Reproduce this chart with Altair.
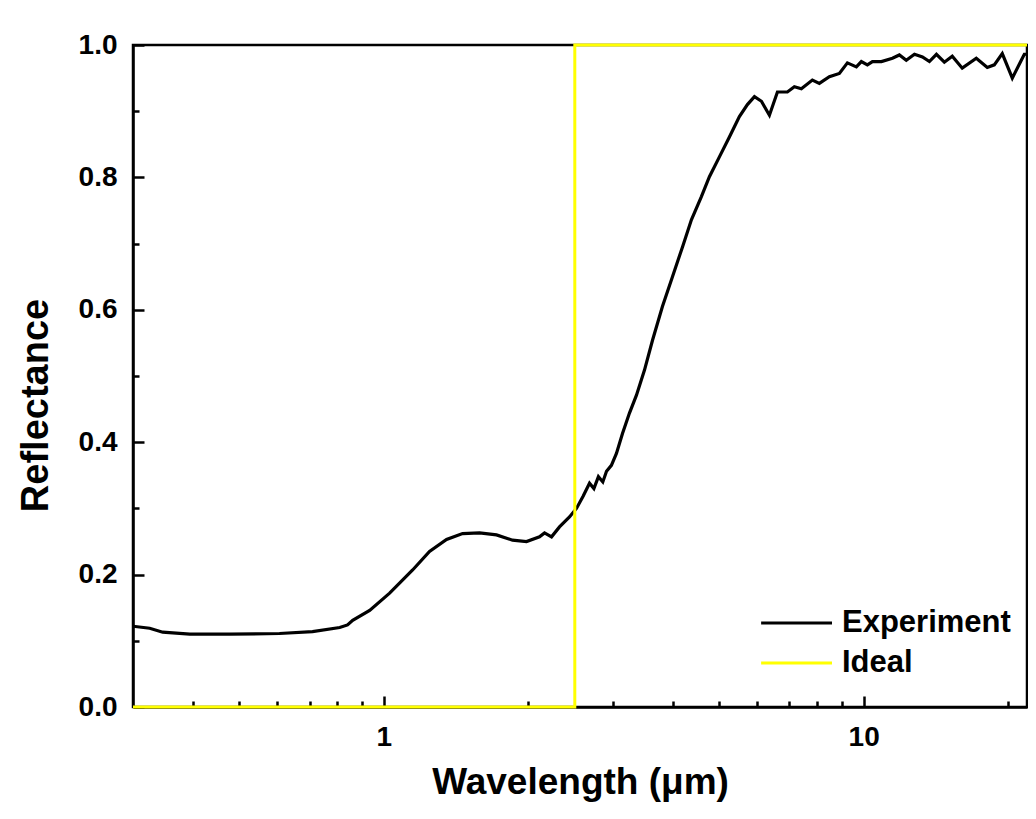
import altair as alt
import pandas as pd

# ---- data ----
exp_wavelength = [0.300, 0.325, 0.346, 0.394, 0.477, 0.606, 0.710, 0.809, 0.840, 0.861,
                  0.934, 1.028, 1.148, 1.245, 1.351, 1.459, 1.583, 1.717, 1.854, 1.983,
                  2.111, 2.162, 2.236, 2.323, 2.437, 2.520, 2.60, 2.683, 2.74, 2.80,
                  2.86, 2.911, 2.98, 3.053, 3.143, 3.250, 3.361, 3.493, 3.630, 3.807,
                  3.995, 4.192, 4.375, 4.590, 4.770, 5.004, 5.250, 5.508, 5.724, 5.921,
                  6.123, 6.362, 6.611, 6.934, 7.171, 7.416, 7.818, 8.085, 8.482, 8.900,
                  9.249, 9.656, 9.890, 10.18, 10.43, 10.89, 11.48, 11.87, 12.27, 12.76,
                  13.26, 13.71, 14.18, 14.73, 15.30, 16.05, 17.17, 18.10, 18.72, 19.45,
                  20.41, 21.31, 21.62, 22.36]
exp_reflectance = [0.122, 0.119, 0.113, 0.110, 0.110, 0.111, 0.114, 0.120, 0.124, 0.131,
                   0.146, 0.172, 0.207, 0.235, 0.253, 0.262, 0.263, 0.260, 0.252, 0.250,
                   0.257, 0.263, 0.257, 0.272, 0.287, 0.300, 0.318, 0.338, 0.330, 0.348,
                   0.340, 0.356, 0.365, 0.383, 0.413, 0.444, 0.471, 0.509, 0.554, 0.605,
                   0.650, 0.695, 0.736, 0.771, 0.801, 0.831, 0.861, 0.892, 0.910, 0.922,
                   0.915, 0.894, 0.929, 0.929, 0.937, 0.934, 0.947, 0.942, 0.952, 0.957,
                   0.973, 0.967, 0.975, 0.970, 0.975, 0.975, 0.980, 0.985, 0.977, 0.986,
                   0.982, 0.975, 0.986, 0.974, 0.983, 0.965, 0.980, 0.966, 0.970, 0.987,
                   0.950, 0.977, 0.986, 0.986]

ideal_wavelength = [0.3, 2.5, 2.5, 21.9]
ideal_reflectance = [0.0, 0.0, 1.0, 1.0]

series_names = ["Experiment", "Ideal"]
series_colors = ["#000000", "#FFFF00"]

x_domain = [0.3, 21.9]
y_domain = [0.0, 1.0]
x_major = [1, 10]
x_minor = [0.4, 0.5, 0.6, 0.7, 0.8, 0.9, 2, 3, 4, 5, 6, 7, 8, 9, 20]
y_major = [0.0, 0.2, 0.4, 0.6, 0.8, 1.0]
y_minor = [0.1, 0.3, 0.5, 0.7, 0.9]

# ---- tables ----
exp_df = pd.DataFrame({"wl": exp_wavelength, "r": exp_reflectance,
                       "series": "Experiment", "order": range(len(exp_wavelength))})
ideal_df = pd.DataFrame({"wl": ideal_wavelength, "r": ideal_reflectance,
                         "series": "Ideal", "order": range(len(ideal_wavelength))})

FONT = "Liberation Sans"

xscale = alt.Scale(type="log", domain=x_domain, nice=False)
yscale = alt.Scale(domain=y_domain, nice=False, zero=False)

major_x_axis = alt.Axis(values=x_major, format="~g", title="Wavelength (μm)",
                        tickSize=alt.ExprRef(expr="-11"), tickWidth=2.5, tickColor="black",
                        labelPadding=27, labelFont=FONT, labelFontSize=28,
                        labelFontWeight="bold", labelColor="black",
                        titleFont=FONT, titleFontSize=37, titleFontWeight="bold",
                        titleColor="black", titlePadding=13,
                        domainColor="black", domainWidth=2.5, grid=False, orient="bottom")
major_y_axis = alt.Axis(values=y_major, format=".1f", title="Reflectance",
                        tickSize=alt.ExprRef(expr="-11"), tickWidth=2.5, tickColor="black",
                        labelPadding=27, labelFont=FONT, labelFontSize=28,
                        labelFontWeight="bold", labelColor="black",
                        titleFont=FONT, titleFontSize=38, titleFontWeight="bold",
                        titleColor="black", titlePadding=23, titleY=360,
                        domainColor="black", domainWidth=2.5, grid=False, orient="left")
minor_x_axis = alt.Axis(values=x_minor, labels=False, title=None, domain=False,
                        tickSize=alt.ExprRef(expr="-6"), tickWidth=2.5, tickColor="black",
                        grid=False, orient="bottom")
minor_y_axis = alt.Axis(values=y_minor, labels=False, title=None, domain=False,
                        tickSize=alt.ExprRef(expr="-6"), tickWidth=2.5, tickColor="black",
                        grid=False, orient="left")

color = alt.Color("series:N",
                  scale=alt.Scale(domain=series_names, range=series_colors),
                  legend=alt.Legend(title=None, orient="none", legendX=645, legendY=559,
                                    symbolType="M-2.05,0H2", symbolSize=1225,
                                    symbolStrokeWidth=3, rowPadding=6, padding=0,
                                    labelFont=FONT, labelFontSize=31,
                                    labelFontWeight="bold", labelColor="black",
                                    labelOffset=26, labelLimit=400))

minor = alt.Chart(exp_df).mark_point(opacity=0).encode(
    x=alt.X("wl:Q", scale=xscale, axis=minor_x_axis),
    y=alt.Y("r:Q", scale=yscale, axis=minor_y_axis),
)

exp_line = alt.Chart(exp_df).mark_line(strokeWidth=3.2, clip=True).encode(
    x=alt.X("wl:Q", scale=xscale, axis=major_x_axis),
    y=alt.Y("r:Q", scale=yscale, axis=major_y_axis),
    color=color,
    order="order:Q",
)

ideal_line = alt.Chart(ideal_df).mark_line(strokeWidth=3).encode(
    x=alt.X("wl:Q", scale=xscale, axis=None),
    y=alt.Y("r:Q", scale=yscale, axis=None),
    color=color,
    order="order:Q",
)

chart = alt.layer(minor, exp_line, ideal_line).resolve_axis(
    x="independent", y="independent"
).properties(
    width=894, height=662,
    autosize=alt.AutoSizeParams(type="none"),
    padding={"left": 125, "top": 37, "right": 1, "bottom": 100},
).configure(
    background="white"
).configure_view(
    stroke="black", strokeWidth=2.5
)

chart.save("out.html", embed_options={"renderer": "svg", "actions": False})
